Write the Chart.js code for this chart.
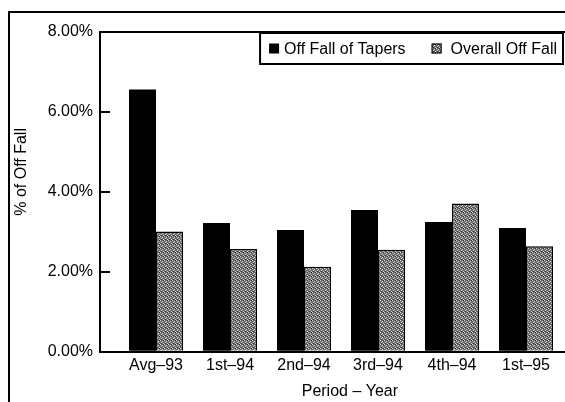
<!DOCTYPE html>
<html>
<head>
<meta charset="utf-8">
<script src="https://cdn.jsdelivr.net/npm/chart.js@4.4.1/dist/chart.umd.min.js"></script>
<style>
  html, body { margin: 0; padding: 0; background: #fff; }
  #wrap { position: relative; width: 565px; height: 402px; overflow: hidden; }
  #frame { position: absolute; left: 8px; top: 11px; width: 600px; height: 500px; border-top: 2px solid #000; border-left: 2px solid #000; }
  canvas { position: absolute; left: 0; top: 0; }
</style>
</head>
<body>
<div id="wrap">
  <div id="frame"></div>
  <canvas id="myChart" width="565" height="402"></canvas>
</div>
<script>
'use strict';

//Values
var periods = ['Avg–93', '1st–94', '2nd–94', '3rd–94', '4th–94', '1st–95'];
var taperOffFall = [6.56, 3.22, 3.05, 3.55, 3.25, 3.10];
var overallOffFall = [3.01, 2.57, 2.13, 2.55, 3.71, 2.64];
var yTicks = [0, 2, 4, 6, 8];
var seriesNames = ['Off Fall of Tapers', 'Overall Off Fall'];
var axisTitles = ['% of Off Fall', 'Period – Year'];

var FONT = "'Liberation Sans', Arial, sans-serif";
Chart.defaults.font.family = FONT;
Chart.defaults.font.size = 16;
Chart.defaults.color = '#000';

var canvas = document.getElementById('myChart');
var ctx = canvas.getContext('2d');

//Speckled grey fill, like the halftone in the scan
function makeDots() {
  var c = document.createElement('canvas');
  c.width = 4;
  c.height = 4;
  var g = c.getContext('2d');
  g.fillStyle = '#6c6c6c';
  g.fillRect(0, 0, 4, 4);
  g.fillStyle = '#d4d4d4';
  g.fillRect(0, 0, 1, 1);
  g.fillRect(2, 1, 1, 1);
  g.fillRect(1, 2, 1, 1);
  g.fillRect(3, 3, 1, 1);
  g.fillStyle = '#2b2b2b';
  g.fillRect(3, 0, 1, 1);
  g.fillRect(1, 3, 1, 1);
  return ctx.createPattern(c, 'repeat');
}
var dots = makeDots();

function points(values) {
  return periods.map(function (p, i) {
    return { x: i, y: values[i] };
  });
}

//Draws the plot top line, both axis titles and the boxed legend
var extras = {
  id: 'extras',
  afterDraw: function (chart) {
    var c = chart.ctx;
    var area = chart.chartArea;
    var xs = chart.scales.x;
    var ys = chart.scales.y;
    var sets = chart.data.datasets;

    c.save();
    c.strokeStyle = '#000';
    c.lineWidth = 2;
    c.beginPath();
    c.moveTo(area.left - 1, area.top);
    c.lineTo(chart.width, area.top);
    c.stroke();

    c.font = '16px ' + FONT;
    c.fillStyle = '#000';
    c.textAlign = 'center';
    c.textBaseline = 'middle';
    c.fillText(axisTitles[1], xs.getPixelForValue(2.62), xs.bottom + 13);
    c.translate(22, ys.getPixelForValue(4.5));
    c.rotate(-Math.PI / 2);
    c.fillText(axisTitles[0], 0, 0);
    c.restore();

    //legend
    c.save();
    c.font = '16px ' + FONT;
    var w1 = c.measureText(sets[0].label).width;
    var w2 = c.measureText(sets[1].label).width;
    var right = xs.getPixelForValue(5.5);
    var top = area.top + 1;
    var h = 31;
    var left = right - (9 + 15 + w1 + 26 + 19 + w2 + 6);
    c.fillStyle = '#fff';
    c.fillRect(left, top, right - left, h);
    c.strokeStyle = '#000';
    c.lineWidth = 2;
    c.strokeRect(left, top, right - left, h);

    var cy = top + h / 2;
    var px = left + 9;
    c.fillStyle = sets[0].backgroundColor;
    c.fillRect(px, cy - 5, 10, 10);
    c.fillStyle = '#000';
    c.textAlign = 'left';
    c.textBaseline = 'middle';
    c.fillText(sets[0].label, px + 15, cy + 1);

    px = px + 15 + w1 + 26;
    c.fillStyle = sets[1].backgroundColor;
    c.fillRect(px, cy - 5, 10, 10);
    c.lineWidth = 1;
    c.strokeRect(px + 0.5, cy - 4.5, 9, 9);
    c.fillStyle = '#000';
    c.fillText(sets[1].label, px + 19, cy + 1);
    c.restore();
  }
};

var chart = new Chart(ctx, {
  type: 'bar',
  data: {
    datasets: [{
      label: seriesNames[0],
      data: points(taperOffFall),
      backgroundColor: '#000',
      borderWidth: 0
    }, {
      label: seriesNames[1],
      data: points(overallOffFall),
      backgroundColor: dots,
      borderColor: '#000',
      borderWidth: 1.5
    }]
  },
  options: {
    responsive: false,
    animation: false,
    categoryPercentage: 0.73,
    barPercentage: 1,
    layout: { padding: { top: 32, right: 0, bottom: 23, left: 0 } },
    plugins: {
      legend: { display: false },
      tooltip: { enabled: false }
    },
    scales: {
      x: {
        type: 'linear',
        offset: false,
        min: -0.757,
        max: 5.527,
        grid: { display: false, drawTicks: false },
        border: { color: '#000', width: 2 },
        afterBuildTicks: function (axis) {
          axis.ticks = periods.map(function (p, i) { return { value: i }; });
        },
        ticks: {
          autoSkip: false,
          maxRotation: 0,
          padding: 4,
          callback: function (v) { return periods[v]; }
        }
      },
      y: {
        min: 0,
        max: 8,
        afterFit: function (axis) { axis.width = 100; },
        afterBuildTicks: function (axis) {
          axis.ticks = yTicks.map(function (v) { return { value: v }; });
        },
        grid: { drawOnChartArea: false, tickLength: -10, color: '#000', lineWidth: 2 },
        border: { color: '#000', width: 2 },
        ticks: {
          padding: 17,
          callback: function (v) { return v.toFixed(2) + '%'; }
        }
      }
    }
  },
  plugins: [extras]
});
</script>
</body>
</html>
